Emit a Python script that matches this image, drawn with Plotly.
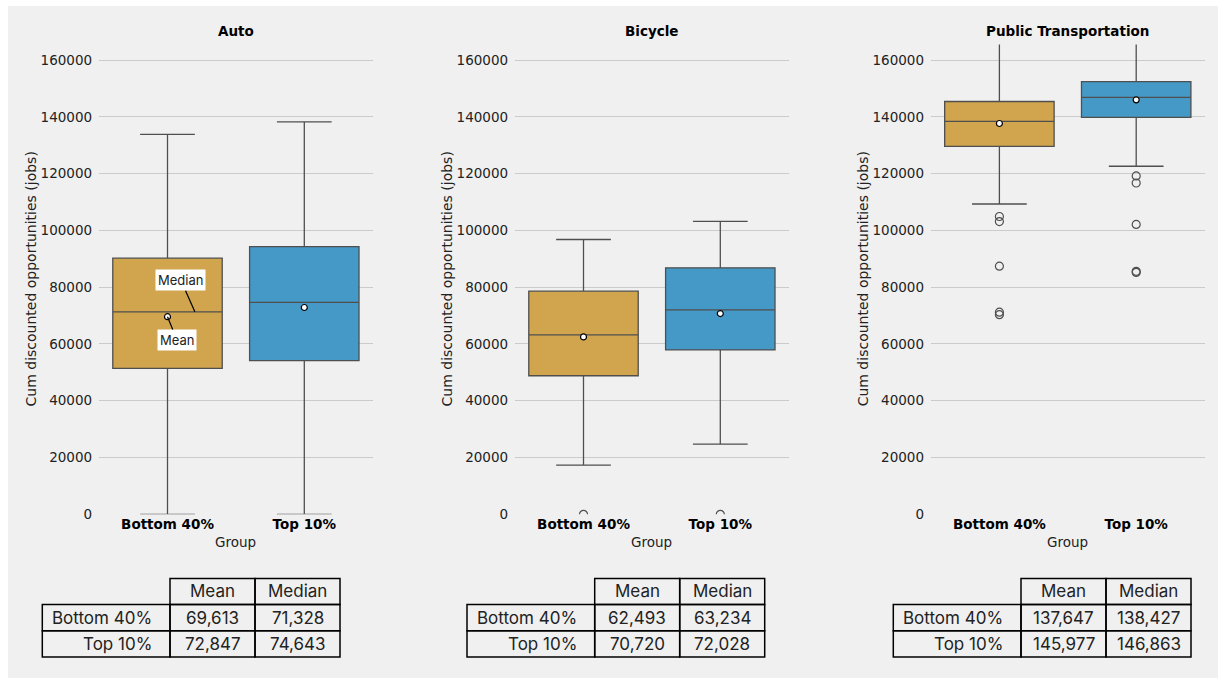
import plotly.graph_objects as go

# ---------------- data ----------------
groups = ["Bottom 40%", "Top 10%"]
modes = ["Auto", "Bicycle", "Public Transportation"]

auto_q1 = [51400, 54100]
auto_median = [71328, 74643]
auto_q3 = [90200, 94300]
auto_lo = [0, 0]
auto_hi = [133800, 138200]
auto_mean = [69613, 72847]
auto_outliers = [[], []]

bike_q1 = [48800, 57900]
bike_median = [63234, 72028]
bike_q3 = [78600, 86800]
bike_lo = [17300, 24700]
bike_hi = [96800, 103200]
bike_mean = [62493, 70720]
bike_outliers = [[0], [0]]

pt_q1 = [129600, 139800]
pt_median = [138427, 146863]
pt_q3 = [145400, 152400]
pt_lo = [109300, 122600]
pt_hi = [172000, 175000]
pt_mean = [137647, 145977]
pt_outliers = [[104900, 103100, 87400, 71200, 70300],
               [119200, 116700, 102100, 85600, 85200]]

y_ticks = [0, 20000, 40000, 60000, 80000, 100000, 120000, 140000, 160000]
table_cols = ["Mean", "Median"]

# ---------------- style ----------------
W, H = 1223, 688
REF_H = 678
SY = H / REF_H          # vertical layout factor
BG = "#f0f0f0"
fills = ["#d0a54e", "#4499c7"]
LINE = "#4f4f4f"
TXT = "#222222"
TICKFONT = "DejaVu Sans"
TABFONT = "Inter, Open Sans, sans-serif"

panels = [
    (auto_q1, auto_median, auto_q3, auto_lo, auto_hi, auto_mean, auto_outliers),
    (bike_q1, bike_median, bike_q3, bike_lo, bike_hi, bike_mean, bike_outliers),
    (pt_q1, pt_median, pt_q3, pt_lo, pt_hi, pt_mean, pt_outliers),
]

plot_left_px = [99.1, 515.1, 931.0]
plot_w_px = 273.6
plot_top_px, plot_bot_px = 44.3, 512.8
table_left_px = [42.3, 467.0, 893.3]
label_col_w, val_col_w = 127.7, 85.0
row_h = 26.1
table_top_px = 576.7

def px(x):
    return x / W

def py(y):
    return 1 - (y * SY) / H

fig = go.Figure()
shapes = []
annotations = []

# figure background panel
shapes.append(dict(type="rect", xref="paper", yref="paper",
                   x0=px(8), x1=px(1218), y0=py(677.6), y1=py(6),
                   fillcolor=BG, line=dict(width=0), layer="below"))

for k, (q1, med, q3, lo, hi, mean, outl) in enumerate(panels):
    n = "" if k == 0 else str(k + 1)
    xa, ya = "x" + n, "y" + n
    for i, g in enumerate(groups):
        fig.add_trace(go.Box(
            x=[g], q1=[q1[i]], median=[med[i]], q3=[q3[i]],
            lowerfence=[lo[i]], upperfence=[hi[i]],
            fillcolor=fills[i], line=dict(color=LINE, width=1.3),
            width=0.8, whiskerwidth=0.5, boxpoints=False,
            xaxis=xa, yaxis=ya, showlegend=False, hoverinfo="skip"))
        if outl[i]:
            fig.add_trace(go.Scatter(
                x=[g] * len(outl[i]), y=outl[i], mode="markers",
                marker=dict(symbol="circle-open", size=8,
                            color=LINE, line=dict(color=LINE, width=1.2)),
                xaxis=xa, yaxis=ya, showlegend=False, hoverinfo="skip"))
    fig.add_trace(go.Scatter(
        x=groups, y=mean, mode="markers",
        marker=dict(symbol="circle", size=6, color="white",
                    line=dict(color="black", width=1.2)),
        xaxis=xa, yaxis=ya, showlegend=False, hoverinfo="skip"))

    x0 = plot_left_px[k]
    dom_x = [px(x0), px(x0 + plot_w_px)]
    dom_y = [py(plot_bot_px), py(plot_top_px)]
    fig.layout["xaxis" + n] = dict(
        domain=dom_x, anchor=ya, type="category",
        categoryorder="array", categoryarray=groups,
        range=[-0.5, 1.5], showgrid=False, zeroline=False, showline=False,
        ticks="", ticklabelstandoff=0,
        tickfont=dict(family=TICKFONT, size=13.5, color="black", weight="bold"))
    fig.layout["yaxis" + n] = dict(
        domain=dom_y, anchor=xa, range=[0, 165500],
        tickvals=y_ticks, tickformat="d",
        showgrid=True, gridcolor="#cbcbcb", gridwidth=1,
        zeroline=False, showline=False, ticks="", ticklabelstandoff=6,
        tickfont=dict(family=TICKFONT, size=13.5, color=TXT))

    cx = x0 + plot_w_px / 2
    # title
    annotations.append(dict(text="<b>%s</b>" % modes[k], xref="paper", yref="paper",
                            x=px(cx), y=py(31), showarrow=False,
                            xanchor="center", yanchor="middle",
                            font=dict(family=TICKFONT, size=13.5, color="black")))
    # x axis title
    annotations.append(dict(text="Group", xref="paper", yref="paper",
                            x=px(cx), y=py(540), showarrow=False,
                            xanchor="center", yanchor="middle",
                            font=dict(family=TICKFONT, size=13.5, color=TXT)))
    # y axis title
    annotations.append(dict(text="Cum discounted opportunities (jobs)",
                            xref="paper", yref="paper",
                            x=px(x0 - 68), y=py((plot_top_px + plot_bot_px) / 2),
                            showarrow=False, textangle=-90,
                            xanchor="center", yanchor="middle",
                            font=dict(family=TICKFONT, size=14, color=TXT)))

    # ---------- table ----------
    tl = table_left_px[k]
    col_x = [tl, tl + label_col_w, tl + label_col_w + val_col_w,
             tl + label_col_w + 2 * val_col_w]
    row_y = [table_top_px + r * row_h for r in range(4)]
    cell_line = dict(color="black", width=1.5)
    tfont = dict(family=TABFONT, size=17, color=TXT)
    # header cells
    for c in range(2):
        shapes.append(dict(type="rect", xref="paper", yref="paper",
                           x0=px(col_x[c + 1]), x1=px(col_x[c + 2]),
                           y0=py(row_y[1]), y1=py(row_y[0]), line=cell_line))
        annotations.append(dict(text=table_cols[c], xref="paper", yref="paper",
                                x=px((col_x[c + 1] + col_x[c + 2]) / 2),
                                y=py((row_y[0] + row_y[1]) / 2), showarrow=False,
                                xanchor="center", yanchor="middle", font=tfont))
    for r in range(2):
        yt, yb = row_y[r + 1], row_y[r + 2]
        shapes.append(dict(type="rect", xref="paper", yref="paper",
                           x0=px(col_x[0]), x1=px(col_x[1]),
                           y0=py(yb), y1=py(yt), line=cell_line))
        annotations.append(dict(text=groups[r], xref="paper", yref="paper",
                                x=px(col_x[1] - 16), y=py((yt + yb) / 2),
                                showarrow=False, xanchor="right", yanchor="middle",
                                font=tfont))
        vals = [mean[r], med[r]]
        for c in range(2):
            shapes.append(dict(type="rect", xref="paper", yref="paper",
                               x0=px(col_x[c + 1]), x1=px(col_x[c + 2]),
                               y0=py(yb), y1=py(yt), line=cell_line))
            annotations.append(dict(text="{:,}".format(vals[c]), xref="paper",
                                    yref="paper",
                                    x=px((col_x[c + 1] + col_x[c + 2]) / 2),
                                    y=py((yt + yb) / 2), showarrow=False,
                                    xanchor="center", yanchor="middle", font=tfont))

# Median / Mean callouts on Auto panel
annotations.append(dict(text="Median", xref="x", yref="y", x=0.2, y=auto_median[0],
                        ax=-14, ay=-31 * SY, showarrow=True, arrowhead=0, arrowwidth=1.2,
                        arrowcolor="black", bgcolor="white", borderpad=2,
                        font=dict(family=TABFONT, size=13, color=TXT)))
annotations.append(dict(text="Mean", xref="x", yref="y", x=0, y=auto_mean[0],
                        ax=9.5, ay=23 * SY, showarrow=True, arrowhead=0, arrowwidth=1.2,
                        arrowcolor="black", bgcolor="white", borderpad=2,
                        font=dict(family=TABFONT, size=13, color=TXT)))

fig.update_layout(
    width=W, height=H, autosize=False,
    margin=dict(l=0, r=0, t=0, b=0),
    paper_bgcolor="white", plot_bgcolor=BG,
    boxmode="overlay", showlegend=False,
    shapes=shapes, annotations=annotations,
)

fig.write_html("out.html")
